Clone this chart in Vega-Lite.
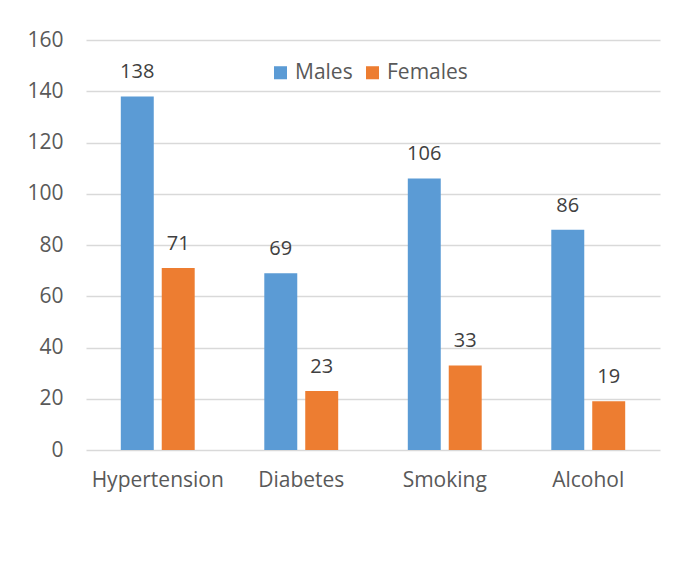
{
  "$schema": "https://vega.github.io/schema/vega-lite/v6.json",
  "width": 574,
  "height": 410,
  "autosize": {"type": "none"},
  "padding": {"left": 86, "top": 40, "right": 18, "bottom": 117},
  "background": "white",
  "config": {"view": {"stroke": null}, "font": "Open Sans"},
  "data": {
    "values": [
      {"category": "Hypertension", "sex": "Males", "value": 138},
      {"category": "Hypertension", "sex": "Females", "value": 71},
      {"category": "Diabetes", "sex": "Males", "value": 69},
      {"category": "Diabetes", "sex": "Females", "value": 23},
      {"category": "Smoking", "sex": "Males", "value": 106},
      {"category": "Smoking", "sex": "Females", "value": 33},
      {"category": "Alcohol", "sex": "Males", "value": 86},
      {"category": "Alcohol", "sex": "Females", "value": 19}
    ]
  },
  "encoding": {
    "x": {
      "field": "category",
      "type": "nominal",
      "sort": ["Hypertension", "Diabetes", "Smoking", "Alcohol"],
      "scale": {"paddingInner": 0, "paddingOuter": 0},
      "axis": {
        "title": null,
        "labelAngle": 0,
        "domain": false,
        "ticks": false,
        "labelFontSize": 21,
        "labelColor": "#595959",
        "labelPadding": 19
      }
    },
    "xOffset": {
      "field": "sex",
      "type": "nominal",
      "sort": ["Males", "Females"],
      "scale": {"paddingInner": 0.195, "paddingOuter": 0.85}
    },
    "y": {
      "field": "value",
      "type": "quantitative",
      "scale": {"domain": [0, 160], "nice": false},
      "axis": {
        "values": [0, 20, 40, 60, 80, 100, 120, 140, 160],
        "title": null,
        "domain": false,
        "ticks": false,
        "gridColor": "#D9D9D9",
        "gridWidth": 1.5,
        "labelFontSize": 21,
        "labelColor": "#595959",
        "labelPadding": 23
      }
    }
  },
  "layer": [
    {
      "mark": {"type": "bar"},
      "encoding": {
        "color": {
          "field": "sex",
          "type": "nominal",
          "sort": ["Males", "Females"],
          "scale": {"domain": ["Males", "Females"], "range": ["#5B9BD5", "#ED7D31"]},
          "legend": {
            "title": null,
            "orient": "none",
            "direction": "horizontal",
            "legendX": 184,
            "legendY": 22,
            "symbolType": "square",
            "symbolSize": 170,
            "symbolStrokeWidth": 0,
            "labelFontSize": 21,
            "labelColor": "#595959",
            "labelOffset": 4,
            "columnPadding": 9
          }
        }
      }
    },
    {
      "mark": {"type": "text", "baseline": "alphabetic", "dy": -18, "fontSize": 20, "color": "#404040"},
      "encoding": {"text": {"field": "value", "type": "quantitative"}}
    }
  ]
}
